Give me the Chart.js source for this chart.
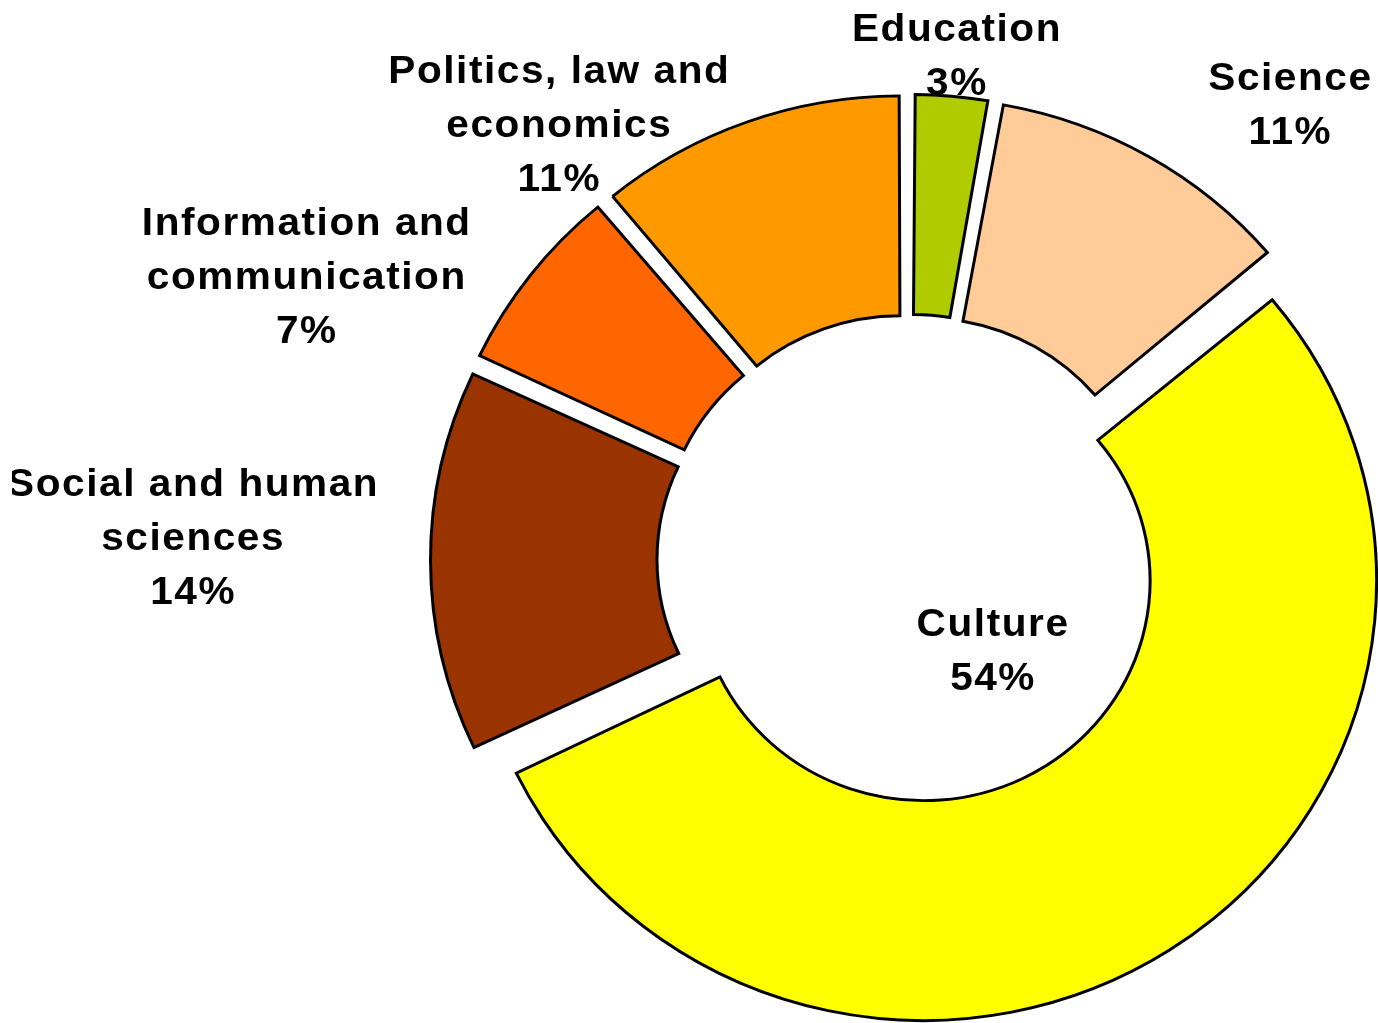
<!DOCTYPE html>
<html>
<head>
<meta charset="utf-8">
<title>Share by sector</title>
<script src="https://cdn.jsdelivr.net/npm/chart.js@4.4.0/dist/chart.umd.min.js"></script>
<style>
  html, body { margin: 0; padding: 0; background: #fff; }
  canvas { display: block; }
</style>
</head>
<body>
<canvas id="sectorChart" width="1378" height="1023"></canvas>
<script>
// data
var categories = ['Education', 'Science', 'Culture', 'Social and human sciences', 'Information and communication', 'Politics, law and economics'];
var shares = [2.8, 11, 54, 14, 7, 11];
var sliceColors = ['#B0CC00', '#FFCC99', '#FFFF00', '#993300', '#FF6600', '#FF9900'];

// how each label wraps, and where it sits (degrees off the slice middle, distance in outer radii)
var labelLines = [['Education'], ['Science'], ['Culture'], ['Social and human', 'sciences'], ['Information and', 'communication'], ['Politics, law and', 'economics']];
var labelTurn = [0.35, 10.1, -9.3, 1.8, -12.7, -19.1];
var labelDist = [1.114, 1.307, 0.275, 1.582, 1.468, 1.230];

var squashY = 0.971;   // original pie is slightly flattened
var textStretch = 1.04; // and its text slightly widened

// Chart.js grows the radius of offset arcs; keep the radius and only push the slice out
var arcDraw = Chart.ArcElement.prototype.draw;
Chart.ArcElement.prototype.draw = function (ctx) {
    var shift = (this.options.offset || 0) / 4;
    var fix = 1 - Math.sin(Math.min(Math.PI, this.circumference || 0));
    var d = shift * fix;
    this.outerRadius -= d;
    this.innerRadius -= d;
    arcDraw.call(this, ctx);
    this.outerRadius += d;
    this.innerRadius += d;
};

var squash = {
    id: 'squash',
    beforeDatasetsDraw: function (chart) {
        var arc = chart.getDatasetMeta(0).data[0];
        var ctx = chart.ctx;
        ctx.save();
        ctx.translate(arc.x, arc.y);
        ctx.scale(1, squashY);
        ctx.translate(-arc.x, -arc.y);
    },
    afterDatasetsDraw: function (chart) {
        chart.ctx.restore();
    }
};

var sliceLabels = {
    id: 'sliceLabels',
    afterDraw: function (chart) {
        var ctx = chart.ctx;
        var meta = chart.getDatasetMeta(0);
        var total = shares.reduce(function (a, b) { return a + b; }, 0);
        ctx.save();
        ctx.beginPath();
        ctx.rect(12, 0, chart.width, chart.height);
        ctx.clip();
        ctx.font = 'bold 39px "Liberation Sans", Arial, sans-serif';
        ctx.letterSpacing = '1.5px';
        ctx.fillStyle = '#000';
        ctx.textAlign = 'center';
        ctx.textBaseline = 'middle';
        meta.data.forEach(function (arc, i) {
            var mid = (arc.startAngle + arc.endAngle) / 2 + labelTurn[i] * Math.PI / 180;
            var r = arc.outerRadius * labelDist[i];
            var x = arc.x + Math.cos(mid) * r;
            var y = arc.y + Math.sin(mid) * r;
            var lines = labelLines[i].concat([Math.round(shares[i] / total * 100) + '%']);
            var lh = 54;
            var top = y - (lines.length - 1) * lh / 2;
            lines.forEach(function (t, k) {
                ctx.save();
                ctx.translate(x, top + k * lh);
                ctx.scale(textStretch, 1);
                ctx.fillText(t, 0, 0);
                ctx.restore();
            });
        });
        ctx.restore();
    }
};

var chart = new Chart(document.getElementById('sectorChart').getContext('2d'), {
    type: 'doughnut',
    data: {
        labels: categories,
        datasets: [{
            data: shares,
            backgroundColor: sliceColors,
            borderColor: '#000',
            borderWidth: 3,
            borderJoinStyle: 'miter',
            offset: 104
        }]
    },
    options: {
        responsive: false,
        animation: false,
        radius: 453,
        cutout: '50%',
        layout: { padding: { left: 441, top: 96, right: 0, bottom: 0 } },
        plugins: {
            legend: { display: false },
            tooltip: { enabled: false }
        }
    },
    plugins: [squash, sliceLabels]
});
</script>
</body>
</html>
